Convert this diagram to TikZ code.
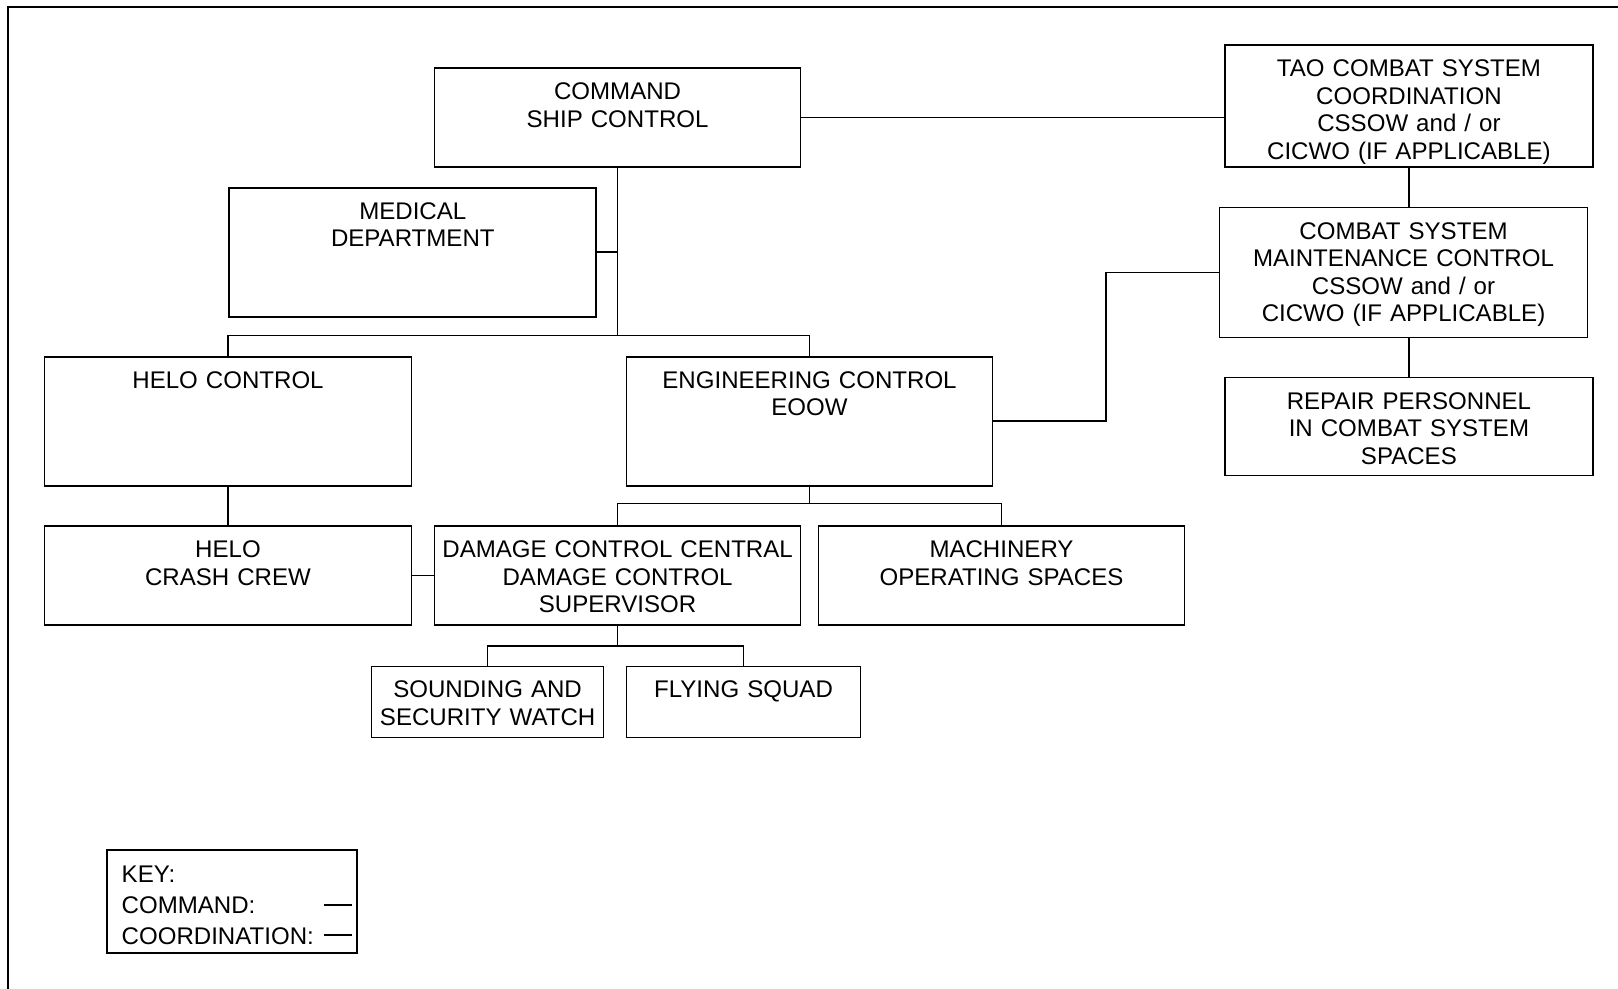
\documentclass[tikz,border=0pt]{standalone}
\usepackage{fontspec}
\setmainfont{Liberation Sans}
\usetikzlibrary{calc}

\tikzset{
  boxwd/.code={\pgfmathsetlengthmacro\unitwd{#1*0.02cm}\tikzset{text width/.expanded=\unitwd}},
  boxht/.code={\pgfmathsetlengthmacro\unitdp{#1*0.02cm-0.63cm}\tikzset{text depth/.expanded=\unitdp}},
  unit/.style 2 args={draw,line width=1pt,inner sep=0pt,align=center,anchor=north,
    font=\fontsize{13.7}{15.7}\selectfont,text height=0.63cm,boxwd=#1,boxht=#2},
  wire/.style={line width=1pt},
}

\begin{document}
\begin{tikzpicture}[x=0.02cm,y=-0.02cm,line join=miter]
  \useasboundingbox (0,0) rectangle (1618,989);
  \draw[line width=1.1pt] (8.3,989) -- (8.3,7.3) -- (1618,7.3);

  % command chain
  \node[unit={366}{99}]  (cmd)   at (617.6,67.1)  {COMMAND\\SHIP CONTROL};
  \node[unit={367}{129}] (med)   at (412.8,186.8) {MEDICAL\\DEPARTMENT};
  \node[unit={367}{129}] (helo)  at (228,356)     {HELO CONTROL};
  \node[unit={366}{129}] (eng)   at (809.5,356)   {ENGINEERING CONTROL\\EOOW};
  \node[unit={367}{99}]  (crash) at (228,525.2)   {HELO\\CRASH CREW};
  \node[unit={366}{99}]  (dcc)   at (617.6,525.2) {DAMAGE CONTROL CENTRAL\\DAMAGE CONTROL\\SUPERVISOR};
  \node[unit={366}{99}]  (mach)  at (1001.5,525.2) {MACHINERY\\OPERATING SPACES};
  \node[unit={232}{71}]  (snd)   at (487.6,665.6) {SOUNDING AND\\SECURITY WATCH};
  \node[unit={234}{71}]  (fly)   at (743.5,665.6) {FLYING SQUAD};

  % combat system side
  \node[unit={368}{122}] (tao) at (1408.9,44.4)  {TAO COMBAT SYSTEM\\COORDINATION\\CSSOW and / or\\CICWO (IF APPLICABLE)};
  \node[unit={368}{130}] (csm) at (1403.5,206.7) {COMBAT SYSTEM\\MAINTENANCE CONTROL\\CSSOW and / or\\CICWO (IF APPLICABLE)};
  \node[unit={368}{98}]  (rep) at (1408.9,376.7) {REPAIR PERSONNEL\\IN COMBAT SYSTEM\\SPACES};

  \coordinate (cmdbus) at (cmd.south |- 0,335.4);
  \coordinate (engbus) at (eng.south |- 0,503.6);
  \coordinate (dccbus) at (dcc.south |- 0,646);

  \draw[wire] (cmd.east) -- (cmd.east -| tao.west);
  \draw[wire] (tao.south) -- (tao.south |- csm.north);
  \draw[wire] (rep.north) -- (rep.north |- csm.south);
  \draw[wire] (eng.east) -| ($(eng.east)!.5!(csm.west)$) |- (csm.west);
  \draw[wire] (cmd.south) -- (cmdbus);
  \draw[wire] (med.east) -- (med.east -| cmd.south);
  \draw[wire] (helo.north) |- (cmdbus) -| (eng.north);
  \draw[wire] (helo.south) -- (crash.north);
  \draw[wire] (crash.east) -- (dcc.west);
  \draw[wire] (eng.south) -- (engbus);
  \draw[wire] (dcc.north) |- (engbus) -| (mach.north);
  \draw[wire] (dcc.south) -- (dccbus);
  \draw[wire] (snd.north) |- (dccbus) -| (fly.north);

  % key
  \node[unit={250}{102},align=left,text height=0.65cm,inner xsep=0.29cm,boxwd=221,
    font=\fontsize{13.7}{17.5}\selectfont] (key) at (232.2,849.3) {KEY:\\COMMAND:\\COORDINATION:};
  \draw[wire] (324,905) -- (352,905);
  \draw[wire] (324,935) -- (352,935);
\end{tikzpicture}
\end{document}
